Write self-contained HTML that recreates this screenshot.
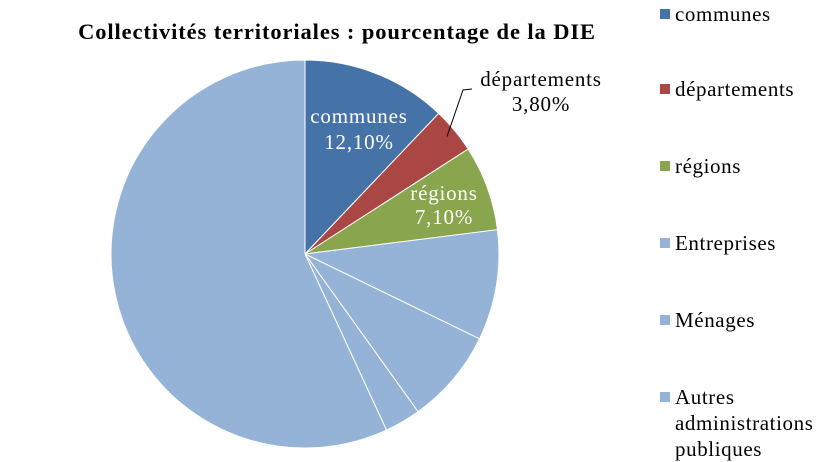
<!DOCTYPE html>
<html><head><meta charset="utf-8"><style>
body{margin:0;background:#fff;}
svg{display:block;font-family:"Liberation Serif",serif;}
</style></head><body>
<svg id="chart" width="837" height="462">
<text x="337" y="39" text-anchor="middle" font-size="22.5" letter-spacing="0.9" font-weight="bold">Collectivités territoriales : pourcentage de la DIE</text>
<g id="slices"></g>
<g id="labels"></g>
<g id="legend"></g>
</svg>
<script>
const categories=["communes","départements","régions","Entreprises","Ménages","Autres administrations publiques","Autres"];
const values=[12.1,3.8,7.1,9.2,7.9,3.0,56.9];
const colors=["#4572A7","#AA4643","#89A54E","#95B3D7","#95B3D7","#95B3D7","#95B3D7"];
const legendNames=["communes","départements","régions","Entreprises","Ménages","Autres administrations publiques"];
const NS="http://www.w3.org/2000/svg";
const cx=305,cy=254,r=194;
const total=values.reduce((a,b)=>a+b,0);
const sg=document.getElementById('slices');
function pt(a,rr){return [cx+rr*Math.sin(a),cy-rr*Math.cos(a)];}
let acc=0;const mids=[];
values.forEach((v,i)=>{
 const a0=acc/total*2*Math.PI;acc+=v;const a1=acc/total*2*Math.PI;
 mids.push((a0+a1)/2);
 const p0=pt(a0,r),p1=pt(a1,r);
 const p=document.createElementNS(NS,'path');
 p.setAttribute('d',`M${cx},${cy}L${p0[0]},${p0[1]}A${r},${r} 0 ${a1-a0>Math.PI?1:0} 1 ${p1[0]},${p1[1]}Z`);
 p.setAttribute('fill',colors[i]);p.setAttribute('stroke','#fff');p.setAttribute('stroke-width','1');
 
 
 sg.appendChild(p);
});
const lg=document.getElementById('labels');
function txt(x,y,s,fill,name){const t=document.createElementNS(NS,'text');t.setAttribute('x',x);t.setAttribute('y',y);t.setAttribute('text-anchor','middle');t.setAttribute('font-size','21');t.setAttribute('letter-spacing','0.8');t.setAttribute('fill',fill);t.textContent=s;
 
 
 lg.appendChild(t);}
function fmt(v){return v.toFixed(2).replace('.',',')+'%';}
txt(359,123,categories[0],'#fff','label-communes');
txt(359,149,fmt(values[0]),'#fff','value-communes');
txt(444,200,categories[2],'#fff','label-regions');
txt(444,224,fmt(values[2]),'#fff','value-regions');
txt(541,86,categories[1],'#000','label-departements');
txt(541,111,fmt(values[1]),'#000','value-departements');
const pl=document.createElementNS(NS,'polyline');
const e=pt(mids[1],r*0.95);
pl.setAttribute('points',`${e[0]},${e[1]} 463,90 472,89`);
pl.setAttribute('fill','none');pl.setAttribute('stroke','#000');


lg.appendChild(pl);
const leg=document.getElementById('legend');
const ly=[14,89,166,243,320,397];
legendNames.forEach((n,i)=>{
 const g=document.createElementNS(NS,'g');
 
 
 const s=document.createElementNS(NS,'rect');s.setAttribute('x',660);s.setAttribute('y',ly[i]-5);s.setAttribute('width',10);s.setAttribute('height',10);s.setAttribute('fill',colors[i]);
 g.appendChild(s);
 const lines=i===5?["Autres","administrations","publiques"]:[n];
 lines.forEach((l,j)=>{const t=document.createElementNS(NS,'text');t.setAttribute('x',675);t.setAttribute('y',ly[i]+7+j*26);t.setAttribute('font-size','21');t.setAttribute('letter-spacing','0.6');t.textContent=l;g.appendChild(t);});
 leg.appendChild(g);
});
</script>
</body></html>
